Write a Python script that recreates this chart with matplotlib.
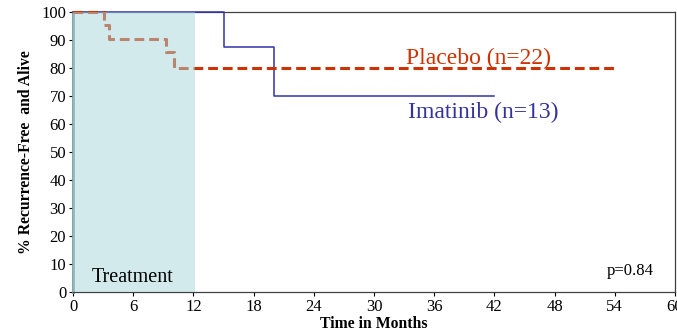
import numpy as np
from matplotlib import pyplot as plt

plt.rcParams['font.family'] = ['Liberation Serif', 'DejaVu Serif']

# Kaplan-Meier steps
placebo_t = [0, 3.1, 3.6, 9.3, 10.1, 54]
placebo_s = [100, 95.5, 90.5, 85.6, 80, 80]
imatinib_t = [0, 15, 20, 42]
imatinib_s = [100, 87.5, 70, 70]

xticks = np.arange(0, 61, 6)
yticks = np.arange(0, 101, 10)

fig = plt.figure(figsize=(6.77, 3.32), dpi=100)
ax = fig.add_axes([0.108, 0.12, 0.889, 0.844])

ax.step(imatinib_t, imatinib_s, where='post', color='#3333AA', lw=1.1,
        zorder=2.6, clip_on=False)
ax.step(placebo_t, placebo_s, where='post', color='#CC3300', lw=2.2,
        dashes=(3.2, 1.6), zorder=2.7, clip_on=False)

# treatment period shading, drawn on top so the dashed line looks brown inside it
ax.axvspan(0, 12.2, color='#A9D7DB', alpha=0.5, lw=0, zorder=3)

ax.text(33.2, 81.5, 'Placebo (n=22)', color='#CC3300', fontsize=17)
ax.text(33.4, 62, 'Imatinib (n=13)', color='#333399', fontsize=17)
ax.text(1.9, 3.5, 'Treatment', fontsize=14.5)
ax.text(53.2, 6, 'p=0.84', fontsize=12)

ax.set_xlim(0, 60)
ax.set_ylim(0, 100)
ax.set_xticks(xticks)
ax.set_yticks(yticks)
ax.tick_params(labelsize=12, direction='out', length=3, width=0.8, pad=2)
ax.set_xlabel('Time in Months', fontweight='bold', fontsize=11.3, labelpad=1)
ax.set_ylabel('% Recurrence-Free  and Alive', fontweight='bold', fontsize=11.3, labelpad=5)

for s in ['top', 'right', 'bottom']:
    ax.spines[s].set_color('#404040')
    ax.spines[s].set_linewidth(0.9)
ax.spines['left'].set_color('#7A9A9E')
ax.spines['left'].set_linewidth(2)

fig.savefig('out.png', dpi=100)
